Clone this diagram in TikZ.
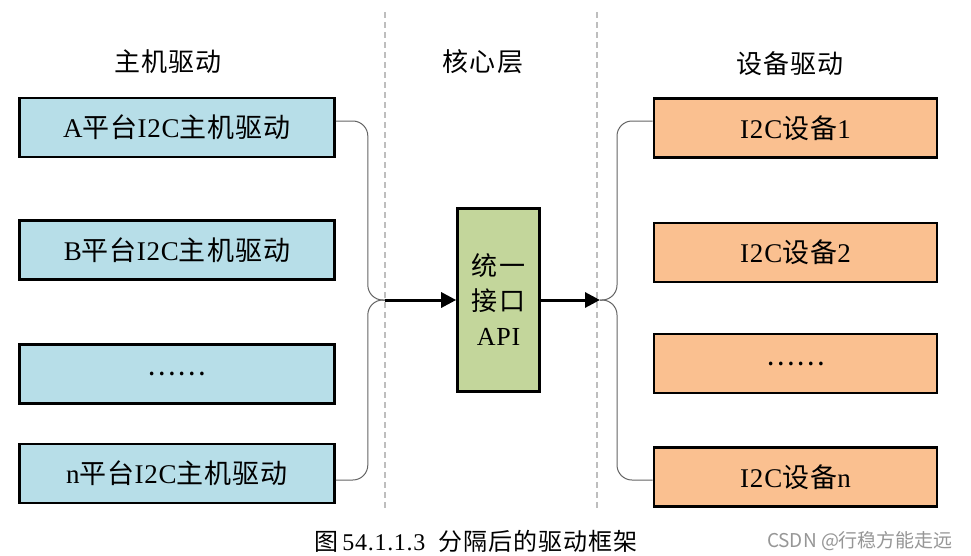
\documentclass[tikz,border=0pt]{standalone}
\usepackage{fontspec}
\setmainfont{Liberation Serif}[LetterSpace=3]
\newfontfamily\zh{Noto Sans CJK SC}[LetterSpace=4]
\newfontfamily\wmfont{Noto Sans CJK SC}
\usetikzlibrary{arrows.meta}
\definecolor{hostblue}{RGB}{183,222,232}
\definecolor{devorange}{RGB}{250,192,144}
\definecolor{coregreen}{RGB}{195,214,155}
\definecolor{sepgray}{RGB}{190,190,190}
\definecolor{linkgray}{RGB}{100,100,100}
\definecolor{markgray}{RGB}{150,150,150}
\begin{document}
\begin{tikzpicture}[x=1pt,y=-1pt,
  box/.style={draw=black,line width=2.6pt,minimum height=59pt,inner sep=0pt,font=\fontsize{27}{32}\selectfont},
  hostbox/.style={box,fill=hostblue,minimum width=315pt},
  devbox/.style={box,fill=devorange,minimum width=283pt},
  corebox/.style={box,fill=coregreen,minimum width=82pt,minimum height=183pt,align=center,font=\fontsize{26}{35}\selectfont},
  header/.style={font=\zh\fontsize{26}{30}\selectfont},
  sep/.style={draw=sepgray,line width=1.6pt,dash pattern=on 6pt off 4pt},
  link/.style={draw=linkgray,line width=1pt,rounded corners=15pt},
  flow/.style={draw=black,line width=3pt,-{Triangle[length=15pt,width=15pt]}}]
\useasboundingbox (0,0) rectangle (971,555);
\fill[white] (0,0) rectangle (971,555);
% separators
\draw[sep] (385,12) -- (385,510);
\draw[sep] (597,12) -- (597,510);
% headers
\node[header] (hh) at (168,62) {主机驱动};
\node[header] (hc) at (483,62) {核心层};
\node[header] (hd) at (790,64) {设备驱动};
% host boxes
\node[hostbox] (h1) at (177,127.5) {A{\zh 平台}I2C{\zh 主机驱动}};
\node[hostbox] (h2) at (177,250) {B{\zh 平台}I2C{\zh 主机驱动}};
\node[hostbox] (h3) at (177,374) {\zh ……};
\node[hostbox] (h4) at (177,473.5) {n{\zh 平台}I2C{\zh 主机驱动}};
% core
\node[corebox] (core) at (498.5,300) {{\zh 统一}\\{\zh 接口}\\API};
% device boxes
\node[devbox] (d1) at (795.5,128) {I2C{\zh 设备}1};
\node[devbox] (d2) at (795.5,252.5) {I2C{\zh 设备}2};
\node[devbox] (d3) at (795.5,363.5) {\zh ……};
\node[devbox] (d4) at (795.5,477) {I2C{\zh 设备}n};
% junctions
\coordinate (jl) at (385,300);
\coordinate (jr) at (600,300);
% links
\draw[link] ([yshift=6.5pt]h1.east) -- ++(32,0) |- (jl);
\draw[link] ([yshift=-6.5pt]h4.east) -- ++(32,0) |- (jl);
\draw[link] (jr) -- ++(17,0) |- ([yshift=7pt]d1.west);
\draw[link] (jr) -- ++(17,0) |- ([yshift=-3pt]d4.west);
\draw[flow] (jl) -- (core.west);
\draw[flow] (core.east) -- (jr);
% caption
\node[font=\fontsize{24}{28}\selectfont] (cap) at (476,541) {{\zh 图}\,54.1.1.3\ \ {\zh 分隔后的驱动框架}};
\node[font=\wmfont\fontsize{19}{22}\selectfont,text=markgray] (wm) at (860,541) {CSDN @行稳方能走远};
\end{tikzpicture}
\end{document}
